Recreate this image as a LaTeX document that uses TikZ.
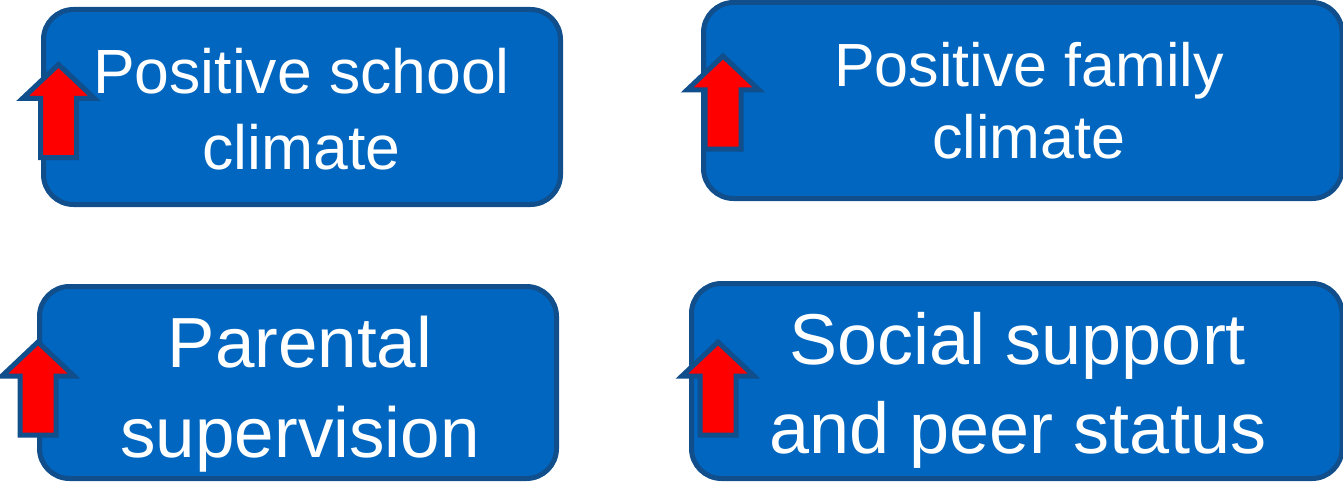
\documentclass[tikz,border=0pt]{standalone}
\usepackage{fontspec}
\setmainfont{Liberation Sans}
\definecolor{boxfill}{RGB}{0,102,192}
\definecolor{boxline}{RGB}{16,78,140}
\definecolor{uparrowred}{RGB}{255,0,0}
\tikzset{
  factorbox/.style={draw=boxline, fill=boxfill, line width=5pt, rounded corners=30pt},
  factortext/.style={text=white, align=center, inner sep=0pt, anchor=base},
  uparrow/.pic={
    \draw[draw=boxline, fill=uparrowred, line width=5pt, line join=miter]
      (0,0) -- (36,34) -- (18,34) -- (18,93) -- (-18,93) -- (-18,34) -- (-36,34) -- cycle;
  }
}
\begin{document}
\begin{tikzpicture}[x=1pt,y=-1pt]
  \useasboundingbox (0,0) rectangle (1343,484);

  % the four factor boxes
  \draw[factorbox] (43.5,9.5) rectangle (560.5,204.5);
  \draw[factorbox] (703.5,2.5) rectangle (1342,198.5);
  \draw[factorbox] (39.5,286.5) rectangle (556.5,478.5);
  \draw[factorbox] (691.5,283.5) rectangle (1342,478.5);

  % red "increase" arrows on the left edge of each box
  \pic at (58.5,64.5) {uparrow};
  \pic at (723,56) {uparrow};
  \pic at (38,342) {uparrow};
  \pic at (718,342) {uparrow};

  % labels (anchored on the baseline of the last line)
  \node[factortext, font=\fontsize{62.5}{76}\selectfont] (school) at (301.5,169) {Positive school\\climate};
  \node[factortext, font=\fontsize{61}{72}\selectfont] (family) at (1029,158) {Positive family\\climate};
  \node[factortext, font=\fontsize{71}{90}\selectfont] (parent) at (300,457) {Parental\\supervision};
  \node[factortext, font=\fontsize{72}{89}\selectfont] (peer) at (1018,453) {Social support\\and peer status};
\end{tikzpicture}
\end{document}
